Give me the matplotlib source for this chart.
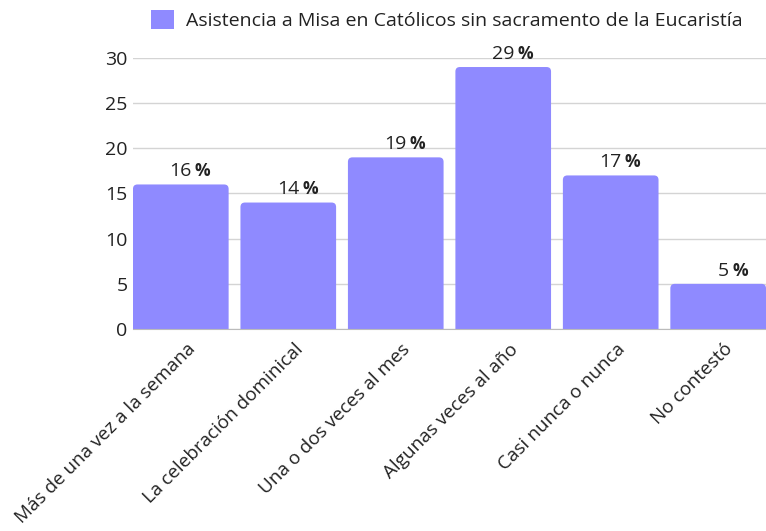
import matplotlib
matplotlib.use("Agg")
import matplotlib.pyplot as plt
from matplotlib.patches import FancyBboxPatch, Patch
from matplotlib.transforms import ScaledTranslation

# Datos
categorias = ["Más de una vez a la semana", "La celebración dominical",
              "Una o dos veces al mes", "Algunas veces al año",
              "Casi nunca o nunca", "No contestó"]
valores = [16, 14, 19, 29, 17, 5]
serie = "Asistencia a Misa en Católicos sin sacramento de la Eucaristía"

COLOR = "#8f8aff"
plt.rcParams["font.family"] = ["Open Sans", "DejaVu Sans"]

fig = plt.figure(figsize=(7.66, 5.31), dpi=100)
ax = fig.add_axes([0.1736, 0.3804, 0.8264, 0.5104])

ancho = 0.89
ax.set_xlim(-ancho / 2, len(valores) - 1 + ancho / 2)
ax.set_ylim(0, 30)

# relacion px por unidad en x / y para redondear esquinas
px_x = ax.bbox.width / (ax.get_xlim()[1] - ax.get_xlim()[0])
px_y = ax.bbox.height / 30
aspecto = px_x / px_y
radio = 4.5 / px_x

for i, v in enumerate(valores):
    barra = FancyBboxPatch((i - ancho / 2, -2), ancho, v + 2,
                           boxstyle=f"round,pad=0,rounding_size={radio}",
                           mutation_aspect=aspecto, facecolor=COLOR,
                           edgecolor="none", zorder=2, clip_on=True)
    ax.add_patch(barra)
    # etiqueta: numero normal + % en negrita
    ax.annotate(str(v), (i, v), xytext=(8, 3), textcoords="offset points",
                ha="right", va="bottom", fontsize=14, color="#222222")
    ax.annotate("%", (i, v), xytext=(10, 3), textcoords="offset points",
                ha="left", va="bottom", fontsize=12.5, fontweight="bold",
                color="#222222")

ax.set_yticks([0, 5, 10, 15, 20, 25, 30])
ax.grid(axis="y", color="#d4d4d4", linewidth=1, zorder=0)
ax.set_xticks(range(len(categorias)))
ax.set_xticklabels(categorias, rotation=45, ha="right", rotation_mode="anchor",
                   fontsize=13.6, color="#222222")
ax.tick_params(axis="y", length=0, labelsize=14, labelcolor="#222222", pad=4)
ax.tick_params(axis="x", length=0, labelcolor="#222222", pad=8)
# desplazar un poco las etiquetas a la derecha
for lbl in ax.get_xticklabels():
    lbl.set_transform(lbl.get_transform() + ScaledTranslation(4 / 72, 0, fig.dpi_scale_trans))
for lado in ["top", "right", "left"]:
    ax.spines[lado].set_visible(False)
ax.spines["bottom"].set_color("#bbbbbb")
ax.spines["bottom"].set_zorder(3)

fig.legend(handles=[Patch(facecolor=COLOR, edgecolor="none")], labels=[serie],
           loc="upper center", bbox_to_anchor=(0.583, 1.015), frameon=False,
           fontsize=14, handlelength=1.2, handleheight=1.2, handletextpad=0.6,
           labelcolor="#222222")

fig.savefig("out.png", dpi=100)
